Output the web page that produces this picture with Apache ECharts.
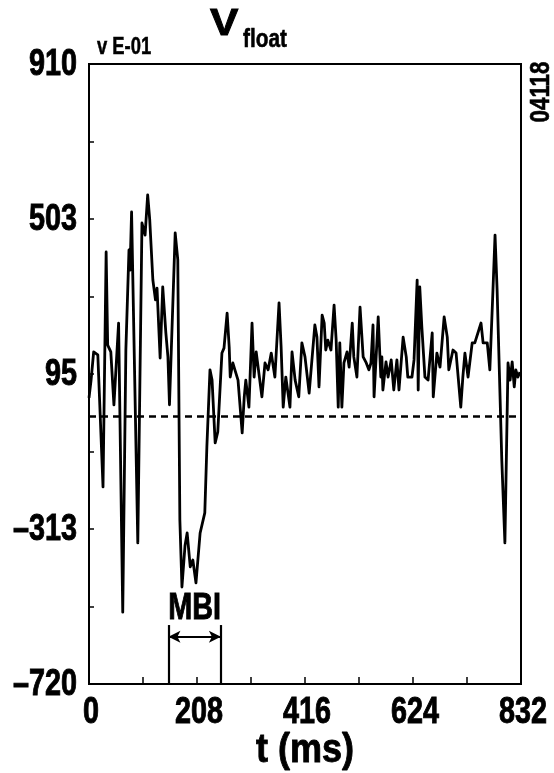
<!DOCTYPE html>
<html><head><meta charset="utf-8">
<script src="https://cdn.jsdelivr.net/npm/echarts/dist/echarts.min.js"></script>
<style>html,body{margin:0;padding:0;background:#fff}#c{width:554px;height:773px}</style>
</head><body><div id="c"></div>
<script>
const timeMs = [0,4,9,17,27,33,36,42,48,57,65,71,77,79,82,94,102,108,113,117,123,128,131,137,142,148,152,155,166,171,175,179,185,189,195,200,206,214,223,227,233,237,243,248,256,260,266,270,272,277,281,287,295,299,302,308,310,314,318,322,333,339,345,351,358,366,370,374,379,387,391,397,404,410,416,424,435,439,443,449,453,456,460,466,472,476,480,483,487,491,497,501,507,510,516,522,528,534,539,543,547,549,553,557,562,564,566,572,576,582,587,593,597,605,611,614,622,626,632,634,637,641,647,653,661,663,670,676,684,690,693,701,707,716,720,724,730,738,743,755,759,767,772,778,782,786,795,801,807,811,815,819,822,826,830];
const vfloat = [32,79,153,145,-202,416,171,153,14,229,-531,158,421,368,521,-349,492,460,566,500,342,290,321,137,324,203,140,14,466,395,-289,-465,-355,-323,-412,-394,-454,-323,-270,-97,106,79,-86,-57,150,163,255,166,87,124,106,79,-60,35,79,8,79,229,87,153,35,124,106,150,87,282,166,8,87,8,153,79,35,177,140,45,224,192,61,250,229,158,184,158,276,184,8,177,8,124,153,113,229,140,87,271,140,124,106,124,224,35,140,245,87,140,53,127,87,132,53,132,53,192,140,87,87,132,342,53,324,219,87,79,203,35,150,113,245,192,106,158,150,8,87,150,87,177,177,229,177,177,106,316,460,316,-131,-349,124,79,127,61,106,87,100];
const xTickValues = [0,208,416,624,832];
const xTickLabels = ['0','208','416','624','832'];
const xMinorTicks = [104,208,312,416,520,624,728];
const yTickValues = [-720,-312.5,95,502.5,910];
const yTickLabels = ['\u2013720','\u2013313','95','503','910'];
const yMinorTicks = [-516.25,-312.5,-108.75,95,298.75,502.5,706.25];
const dashLevel = -15;
const mbiStart = 153, mbiEnd = 254, mbiTop = -565, mbiArrow = -596, mbiLabelV = -523;

const FF = '"Liberation Sans",Arial,sans-serif';
const SX = 0.8;
const chart = echarts.init(document.getElementById('c'), null, {renderer:'canvas'});
const seriesData = timeMs.map((t,i)=>[t, vfloat[i]]);

chart.setOption({
  animation:false,
  backgroundColor:'#fff',
  grid:{left:89,right:33,top:64,bottom:89,show:true,borderColor:'#000',borderWidth:2,backgroundColor:'transparent',containLabel:false,outerBoundsMode:'none'},
  xAxis:{type:'value',min:0,max:832,interval:208,
    axisLine:{show:true,onZero:false,lineStyle:{color:'#000',width:2}},
    axisTick:{show:true,inside:true,length:7,customValues:xMinorTicks,lineStyle:{color:'#000',width:1.5}},
    axisLabel:{show:false},
    splitLine:{show:false}},
  yAxis:{type:'value',min:-720,max:910,
    axisLine:{show:true,onZero:false,lineStyle:{color:'#000',width:2}},
    axisTick:{show:true,inside:true,length:5,customValues:yMinorTicks,lineStyle:{color:'#000',width:1.5}},
    axisLabel:{show:false},
    splitLine:{show:false}},
  series:[{
    type:'line',data:seriesData,showSymbol:false,symbol:'none',
    lineStyle:{color:'#000',width:2.8,join:'round'},z:5,
    markLine:{silent:true,symbol:['none','none'],label:{show:false},animation:false,
      data:[
        [{coord:[0,dashLevel]},{coord:[832,dashLevel],lineStyle:{color:'#000',width:2.5,type:[7,5]}}],
        [{coord:[mbiStart,-720]},{coord:[mbiStart,mbiTop],lineStyle:{color:'#000',width:2.2,type:'solid'}}],
        [{coord:[mbiEnd,-720]},{coord:[mbiEnd,mbiTop],lineStyle:{color:'#000',width:2.2,type:'solid'}}],
        [{coord:[mbiStart,mbiArrow],symbol:'arrow',symbolSize:[9,12]},{coord:[mbiEnd,mbiArrow],symbol:'arrow',symbolSize:[9,12],lineStyle:{color:'#000',width:2.2,type:'solid'}}]
      ]}
  }]
});

function txt(text, x, y, size, align, opts){
  opts = opts || {};
  return {type:'text', x:x, y:y, scaleX:opts.sx||SX, rotation:opts.rot||0, z:10,
    style:{text:text, x:0, y:0, textAlign:align, textVerticalAlign:'middle', font:'bold '+size+'px '+FF, fill:'#000', stroke:'#000', lineWidth:opts.lw===undefined?0.9:opts.lw}};
}
const g = [];
xTickValues.forEach((v,i)=>{
  const p = chart.convertToPixel({gridIndex:0},[v,-720]);
  g.push(txt(xTickLabels[i], p[0]+2, 713, 36, 'center'));
});
yTickValues.forEach((v,i)=>{
  const p = chart.convertToPixel({gridIndex:0},[0,v]);
  g.push(txt(yTickLabels[i], 77, p[1]+1, 36, 'right'));
});
const mp = chart.convertToPixel({gridIndex:0},[(mbiStart+mbiEnd)/2, mbiLabelV]);
g.push(txt('MBI', mp[0], mp[1], 36, 'center'));
g.push(txt('t (ms)', 305, 751, 40, 'center', {sx:0.9}));
g.push(txt('V', 210, 25, 37, 'left', {sx:1.15}));
g.push(txt('float', 243, 40, 26, 'left', {lw:0.6}));
g.push(txt('v E-01', 97, 48, 23, 'left', {lw:0.5}));
g.push(txt('04118', 541, 92, 28, 'center', {rot:Math.PI/2, lw:0.6}));
chart.setOption({graphic:g});
</script></body></html>
